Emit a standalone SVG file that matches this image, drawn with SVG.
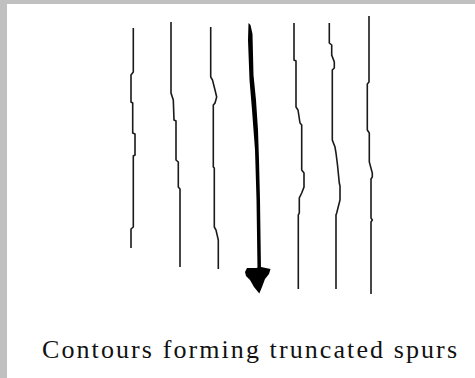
<svg xmlns="http://www.w3.org/2000/svg" width="475" height="378" viewBox="0 0 475 378">
<style>
.contour{fill:none;stroke:#1a1a1a;stroke-width:1.6;stroke-linejoin:miter}
.cap{font-family:"Liberation Serif","Times New Roman",serif;font-size:26px;fill:#111}
</style>
<rect x="0" y="0" width="475" height="378" fill="#ffffff"/>
<rect x="0" y="0" width="475" height="4" fill="#c0c0c0"/>
<rect x="0" y="0" width="7" height="378" fill="#c0c0c0"/>
<g id="contours">
<polyline id="c1" class="contour" points="133.3,28 133.3,72 131,75 131,102 132.7,103 132.7,133 135,134 135,155 133.3,156 133.3,227 131,229 131,248"/>
<polyline id="c2" class="contour" points="171,22 171,93 173.3,100 174,120 176,121 176,160 178.3,162 178.3,187 180,189 180,267"/>
<polyline id="c3" class="contour" points="210.7,27 210.7,77 212.5,80 215,90 216.7,97 215,103 213.3,105 213.3,167 214.3,168 214.3,227 216,230 218.3,240 218.3,269"/>
<polyline id="c5" class="contour" points="294,23 294,60 296,61 296,107 298,110 300,123 301.7,125 301.7,170 304,173 304,187 301.7,193 299.3,198 299.3,213 298.3,215 298.3,289"/>
<polyline id="c6" class="contour" points="329.3,23 329.3,43 331.7,45 331.7,55 334.3,62 334.3,68 332.3,70 332.3,140 335,147 336,153 337.5,165 339.3,183 340,186 340,200 336.7,213 336,215 336,289"/>
<polyline id="c7" class="contour" points="369,16 369,82 367.3,84 367.3,130 369.3,133 369.3,162 372.3,173 372.3,177 371,179 371,218 372.3,220 371,222 371,294"/>
</g>
<g id="connectors">
<path d="M248.5,23 L250.5,25 L252.5,34 L253.5,75 L256,100 L258,130 L259,160 L260,200 L261,270 L257.5,270 L256.5,200 L255,150 L252,110 L249.5,80 L248,40 Z" fill="#000"/>
<polygon points="245,272 247,268 256,268 261,267 270.5,269 269,274 265,279 262,287 259.3,293.5 254,287 250,280 246,276" fill="#000"/>
</g>
<text class="cap" x="42" y="357.5" textLength="415" lengthAdjust="spacing">Contours forming truncated spurs</text>
</svg>
